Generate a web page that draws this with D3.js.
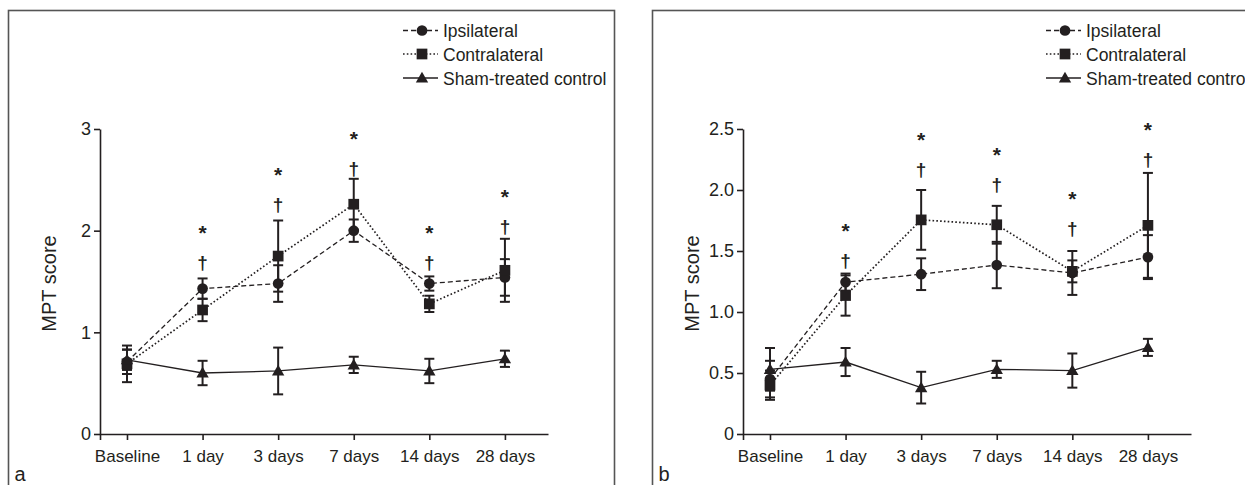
<!DOCTYPE html>
<html>
<head>
<meta charset="utf-8">
<script src="https://cdn.jsdelivr.net/npm/d3@7/dist/d3.min.js"></script>
<style>
  html, body { margin: 0; padding: 0; background: #fff; }
  svg { display: block; font-family: "Liberation Sans", Arial, Helvetica, sans-serif; }
</style>
</head>
<body>
<svg id="chart" width="1245" height="485"></svg>
<script>
// ---------- data ----------
const categories = ["Baseline", "1 day", "3 days", "7 days", "14 days", "28 days"];
const seriesNames = ["Ipsilateral", "Contralateral", "Sham-treated control"];

// Panel a
const ipsiA      = [0.71, 1.43, 1.48, 2.00, 1.48, 1.54];
const ipsiErrA   = [0.12, 0.10, 0.18, 0.11, 0.07, 0.18];
const contraA    = [0.69, 1.22, 1.75, 2.26, 1.28, 1.61];
const contraErrA = [0.18, 0.11, 0.35, 0.25, 0.08, 0.31];
const shamA      = [0.73, 0.60, 0.62, 0.68, 0.62, 0.74];
const shamErrA   = [0.10, 0.12, 0.23, 0.08, 0.12, 0.08];
const daggerA    = [null, 1.68, 2.25, 2.61, 1.68, 2.04];   // level of † (score units)
const yTicksA      = [0, 1, 2, 3];
const yTickLabelsA = ["0", "1", "2", "3"];

// Panel b
const ipsiB      = [0.45, 1.245, 1.31, 1.385, 1.32, 1.45];
const ipsiErrB   = [0.15, 0.07, 0.13, 0.19, 0.18, 0.18];
const contraB    = [0.40, 1.135, 1.755, 1.715, 1.333, 1.71];
const contraErrB = [0.12, 0.165, 0.245, 0.155, 0.09, 0.43];
const shamB      = [0.53, 0.59, 0.38, 0.53, 0.52, 0.71];
const shamErrB   = [0.175, 0.115, 0.13, 0.07, 0.14, 0.07];
const daggerB    = [null, 1.42, 2.16, 2.04, 1.68, 2.25];
const yTicksB      = [0, 0.5, 1, 1.5, 2, 2.5];
const yTickLabelsB = ["0", "0.5", "1.0", "1.5", "2.0", "2.5"];

const panelLetters = ["a", "b"];

// ---------- layout ----------
const INK = "#231f20";
const svg = d3.select("#chart");

const panels = [
  { letter: panelLetters[0], left: 100, border: [8.5, 10.5, 606, 520], yMax: 3,
    series: [[ipsiA, ipsiErrA], [contraA, contraErrA], [shamA, shamErrA]],
    dagger: daggerA, yTicks: yTicksA, yLabels: yTickLabelsA },
  { letter: panelLetters[1], left: 743, border: [652.5, 10.5, 700, 520], yMax: 2.5,
    series: [[ipsiB, ipsiErrB], [contraB, contraErrB], [shamB, shamErrB]],
    dagger: daggerB, yTicks: yTicksB, yLabels: yTickLabelsB }
];

const plotTop = 129, plotBottom = 434, plotW = 448;
const lineStyles = [
  { dash: "5,3", width: 1.3 },
  { dash: "1.6,2.2", width: 1.7 },
  { dash: null, width: 1.3 }
];
const symbols = [
  d3.symbol().type(d3.symbolCircle).size(90),
  d3.symbol().type(d3.symbolSquare).size(115),
  d3.symbol().type(d3.symbolTriangle).size(66)
];

panels.forEach(p => {
  // border
  svg.append("rect")
    .attr("x", p.border[0]).attr("y", p.border[1])
    .attr("width", p.border[2]).attr("height", p.border[3])
    .attr("fill", "none").attr("stroke", "#555").attr("stroke-width", 1.6);

  const g = svg.append("g").attr("transform", `translate(${p.left},0)`);

  const x = d3.scaleLinear().domain([-0.357, 5.57]).range([0, plotW]);
  const y = d3.scaleLinear().domain([0, p.yMax]).range([plotBottom, plotTop]);

  // y axis
  const yAxis = g.append("g")
    .call(d3.axisLeft(y).tickValues(p.yTicks)
      .tickFormat((d, i) => p.yLabels[i]).tickSize(6).tickSizeOuter(0).tickPadding(3));
  // x axis
  const xAxis = g.append("g").attr("transform", `translate(0,${plotBottom})`)
    .call(d3.axisBottom(x).tickValues([x.domain()[0]].concat(categories.map((c, i) => i)))
      .tickFormat((d, i) => i === 0 ? "" : categories[i - 1]).tickSize(6).tickSizeOuter(0).tickPadding(10));
  [yAxis, xAxis].forEach(a => {
    a.select(".domain").attr("stroke", INK).attr("stroke-width", 1.6);
    a.selectAll(".tick line").attr("stroke", INK).attr("stroke-width", 1.6);
    a.selectAll(".tick text").attr("fill", INK)
      .style("font-family", '"Liberation Sans", Arial, sans-serif');
  });
  yAxis.selectAll(".tick text").style("font-size", "18px");
  xAxis.selectAll(".tick text").style("font-size", "17px");

  // y label
  g.append("text")
    .attr("transform", `translate(${-44},${(plotTop + plotBottom) / 2 + 2}) rotate(-90)`)
    .attr("text-anchor", "middle").attr("fill", INK)
    .style("font-size", "20px").text("MPT score");

  // lines
  p.series.forEach((s, si) => {
    const vals = s[0];
    const line = d3.line().x((d, i) => x(i)).y(d => y(d));
    g.append("path").datum(vals).attr("d", line)
      .attr("fill", "none").attr("stroke", INK)
      .attr("stroke-width", lineStyles[si].width)
      .attr("stroke-dasharray", lineStyles[si].dash);
  });

  // error bars
  p.series.forEach((s, si) => {
    const vals = s[0], errs = s[1];
    vals.forEach((v, i) => {
      const cx = x(i), y1 = y(v + errs[i]), y2 = y(v - errs[i]);
      const eg = g.append("g").attr("stroke", INK).attr("stroke-width", 2);
      eg.append("line").attr("x1", cx).attr("x2", cx).attr("y1", y1).attr("y2", y2);
      eg.append("line").attr("x1", cx - 5).attr("x2", cx + 5).attr("y1", y1).attr("y2", y1);
      eg.append("line").attr("x1", cx - 5).attr("x2", cx + 5).attr("y1", y2).attr("y2", y2);
    });
  });

  // markers
  p.series.forEach((s, si) => {
    g.append("g").selectAll("path").data(s[0]).join("path")
      .attr("transform", (d, i) => `translate(${x(i)},${y(d) + (si === 2 ? 1 : 0)})`)
      .attr("d", symbols[si]).attr("fill", INK);
  });

  // significance marks
  p.dagger.forEach((dv, i) => {
    if (dv == null) return;
    const cy = y(dv);
    g.append("text").attr("x", x(i)).attr("y", cy + 6)
      .attr("text-anchor", "middle").attr("fill", INK)
      .style("font-size", "19px").style("font-weight", "bold").text("\u2020");
    g.append("text").attr("x", x(i)).attr("y", cy - 35 + 12)
      .attr("text-anchor", "middle").attr("fill", INK)
      .style("font-size", "21px").style("font-weight", "bold").text("*");
  });

  // legend
  const rows = [30.5, 54, 78];
  seriesNames.forEach((name, si) => {
    const lg = g.append("g");
    lg.append("line").attr("x1", 303).attr("x2", 338).attr("y1", rows[si]).attr("y2", rows[si])
      .attr("stroke", INK).attr("stroke-width", lineStyles[si].width)
      .attr("stroke-dasharray", lineStyles[si].dash);
    lg.append("path").attr("transform", `translate(322,${rows[si] + (si === 2 ? 1 : 0)})`)
      .attr("d", symbols[si]).attr("fill", INK);
    lg.append("text").attr("x", 343).attr("y", rows[si] + 6.5)
      .attr("fill", INK).style("font-size", "17.5px").text(name);
  });

  // panel letter
  svg.append("text").attr("x", p.border[0] + 6).attr("y", 481)
    .attr("fill", INK).style("font-size", "20px").text(p.letter);
});
</script>
</body>
</html>
